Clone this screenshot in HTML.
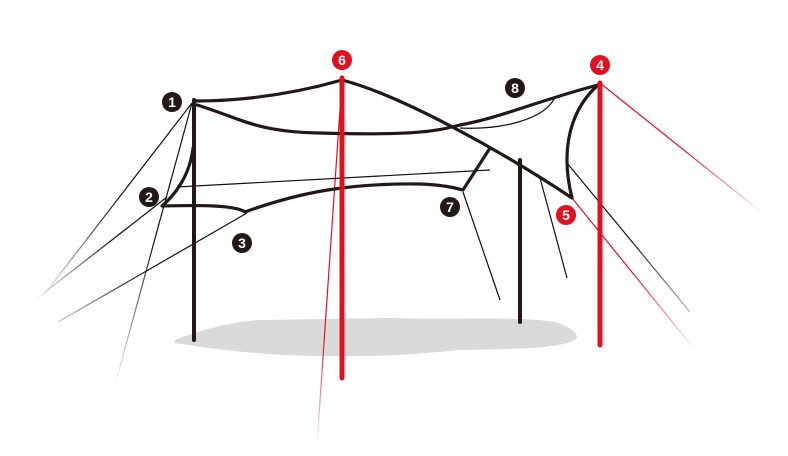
<!DOCTYPE html>
<html><head><style>html,body{margin:0;padding:0;background:#fff}svg{display:block}</style></head>
<body>
<svg width="788" height="456" viewBox="0 0 788 456" xmlns="http://www.w3.org/2000/svg" font-family="Liberation Sans, sans-serif">
<defs>
<linearGradient id="fl1" gradientUnits="userSpaceOnUse" x1="192" y1="103" x2="40" y2="300"><stop offset="0.5" stop-color="#111"/><stop offset="1" stop-color="#111" stop-opacity="0"/></linearGradient>
<linearGradient id="fl2" gradientUnits="userSpaceOnUse" x1="192" y1="103" x2="115" y2="385"><stop offset="0.5" stop-color="#111"/><stop offset="1" stop-color="#111" stop-opacity="0"/></linearGradient>
<linearGradient id="fl3" gradientUnits="userSpaceOnUse" x1="167" y1="197" x2="35" y2="300"><stop offset="0.4" stop-color="#111"/><stop offset="1" stop-color="#111" stop-opacity="0"/></linearGradient>
<linearGradient id="fl4" gradientUnits="userSpaceOnUse" x1="247" y1="213" x2="55" y2="325"><stop offset="0.5" stop-color="#111"/><stop offset="1" stop-color="#111" stop-opacity="0.2"/></linearGradient>
<linearGradient id="fr1" gradientUnits="userSpaceOnUse" x1="567" y1="163" x2="690" y2="312"><stop offset="0.5" stop-color="#111"/><stop offset="1" stop-color="#111" stop-opacity="0.3"/></linearGradient>
<linearGradient id="fr2" gradientUnits="userSpaceOnUse" x1="572" y1="198" x2="695" y2="350"><stop offset="0.5" stop-color="#e01020"/><stop offset="1" stop-color="#e01020" stop-opacity="0"/></linearGradient>
<linearGradient id="fr3" gradientUnits="userSpaceOnUse" x1="600" y1="83" x2="765" y2="215"><stop offset="0.5" stop-color="#e01020"/><stop offset="1" stop-color="#e01020" stop-opacity="0"/></linearGradient>
<linearGradient id="fr4" gradientUnits="userSpaceOnUse" x1="342" y1="80" x2="317" y2="445"><stop offset="0.7" stop-color="#e01020"/><stop offset="1" stop-color="#e01020" stop-opacity="0"/></linearGradient>
</defs>
<path d="M175,340 C200,330 230,322 260,320 L390,318 C450,320 520,316 555,322 C575,328 580,336 575,340 C555,350 500,349 460,350 C420,354 380,357 330,356 C280,356 230,352 175,343 Z" fill="#dadada"/>
<g fill="none" stroke-width="1.2">
<line x1="192" y1="103" x2="40" y2="300" stroke="url(#fl1)"/>
<line x1="192" y1="103" x2="115" y2="385" stroke="url(#fl2)"/>
<line x1="167" y1="197" x2="35" y2="300" stroke="url(#fl3)"/>
<line x1="247" y1="213" x2="58" y2="322" stroke="url(#fl4)"/>
<line x1="567" y1="163" x2="690" y2="312" stroke="url(#fr1)"/>
<line x1="540" y1="178" x2="567" y2="278" stroke="#111"/>
<line x1="463" y1="192" x2="500" y2="300" stroke="#111"/>
<line x1="572" y1="198" x2="695" y2="350" stroke="url(#fr2)"/>
<line x1="600" y1="83" x2="765" y2="215" stroke="url(#fr3)"/>
<line x1="342" y1="80" x2="317" y2="445" stroke="url(#fr4)"/>
<line x1="177" y1="187" x2="490" y2="170" stroke="#111"/>
<path d="M555,97 C545,120 500,130 460,128" stroke="#111"/>
</g>
<line x1="194" y1="100" x2="194" y2="340" stroke="#231815" stroke-width="4" stroke-linecap="round"/>
<line x1="520" y1="160" x2="520" y2="322" stroke="#231815" stroke-width="4" stroke-linecap="round"/>
<g fill="none" stroke="#231815" stroke-width="3.2" stroke-linejoin="round" stroke-linecap="round">
<path d="M194,101 C250,101 300,92 342,80 C400,95 500,150 572,198"/>
<path d="M197,105 C240,118 255,132 320,133 C420,136 440,130 460,125 C500,118 540,100 598,85"/>
<path d="M598,85 C570,110 560,150 572,198"/>
<path d="M193,148 C190,175 175,195 162,206 C200,205 235,205 245,212 C300,192 350,183 420,184 C445,185 455,188 463,190 L490,148"/>
</g>
<line x1="342" y1="78" x2="342" y2="378" stroke="#e01020" stroke-width="5" stroke-linecap="round"/>
<line x1="600" y1="83" x2="600" y2="345" stroke="#e01020" stroke-width="5" stroke-linecap="round"/>
<g font-weight="bold" font-size="14" text-anchor="middle" fill="#fff">
<circle cx="172" cy="102" r="10" fill="#231815"/><text x="172" y="107">1</text>
<circle cx="149" cy="197" r="10" fill="#231815"/><text x="149" y="202">2</text>
<circle cx="242" cy="243" r="10" fill="#231815"/><text x="242" y="248">3</text>
<circle cx="450" cy="207" r="10" fill="#231815"/><text x="450" y="212">7</text>
<circle cx="515" cy="88" r="10" fill="#231815"/><text x="515" y="93">8</text>
<circle cx="342" cy="60" r="10" fill="#e01020"/><text x="342" y="65">6</text>
<circle cx="600" cy="65" r="10" fill="#e01020"/><text x="600" y="70">4</text>
<circle cx="566" cy="215" r="10" fill="#e01020"/><text x="566" y="220">5</text>
</g>
</svg>
</body></html>
